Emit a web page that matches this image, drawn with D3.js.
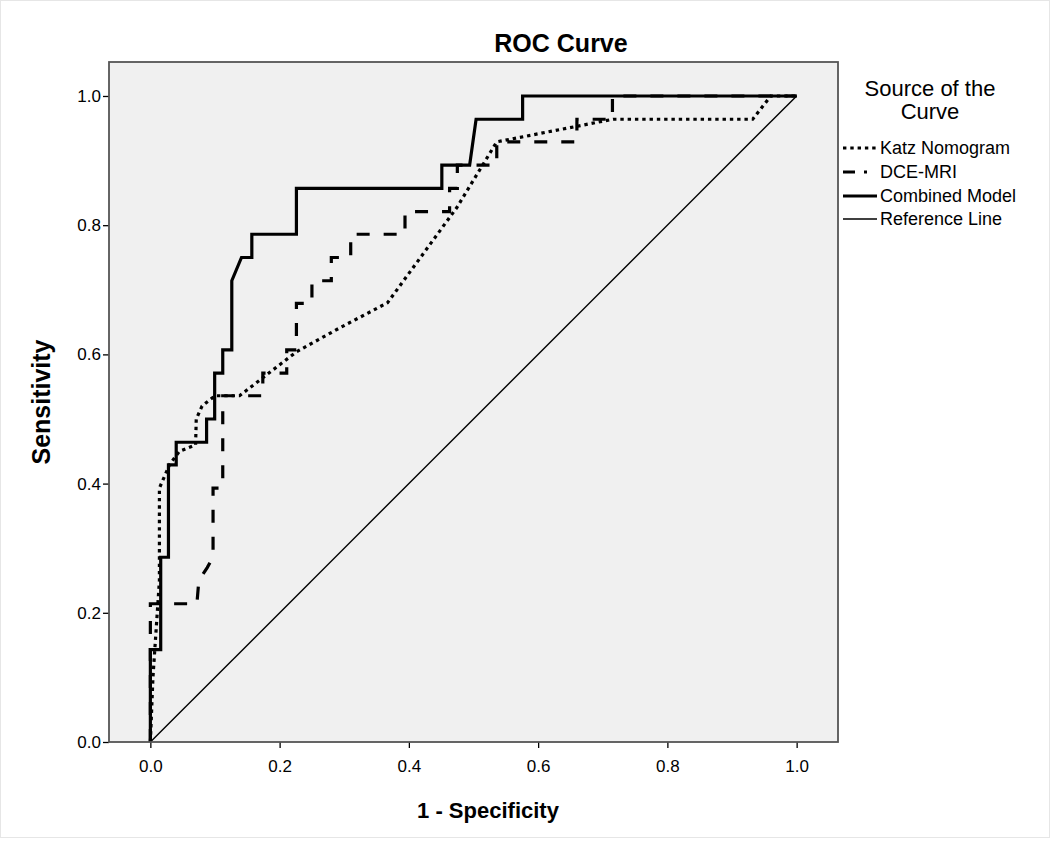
<!DOCTYPE html>
<html>
<head>
<meta charset="utf-8">
<script src="https://cdn.jsdelivr.net/npm/d3@7"></script>
<style>
  html, body { margin: 0; padding: 0; background: #ffffff; }
  svg { display: block; font-family: "Liberation Sans", Arial, sans-serif; }
</style>
</head>
<body>
<svg id="chart" width="1050" height="841"></svg>
<script>
// ---------- data ----------
const xTicks = [0.0, 0.2, 0.4, 0.6, 0.8, 1.0];
const yTicks = [0.0, 0.2, 0.4, 0.6, 0.8, 1.0];

const katzX = [0, 0.004, 0.014, 0.014, 0.03, 0.045, 0.07, 0.071, 0.08, 0.1, 0.138, 0.226, 0.293, 0.367, 0.474, 0.536, 0.716, 0.932, 0.96, 1.0];
const katzY = [0, 0.10, 0.25, 0.393, 0.43, 0.45, 0.46, 0.5, 0.52, 0.536, 0.536, 0.604, 0.641, 0.68, 0.827, 0.929, 0.964, 0.964, 1.0, 1.0];

const dceX = [0, 0, 0.072, 0.075, 0.088, 0.097, 0.097, 0.112, 0.112, 0.174, 0.174, 0.211, 0.211, 0.226, 0.226, 0.25, 0.25, 0.28, 0.28, 0.31, 0.31, 0.394, 0.394, 0.463, 0.463, 0.475, 0.475, 0.536, 0.536, 0.66, 0.66, 0.715, 0.715, 1.0];
const dceY = [0, 0.214, 0.214, 0.25, 0.27, 0.286, 0.393, 0.393, 0.536, 0.536, 0.571, 0.571, 0.607, 0.607, 0.679, 0.679, 0.714, 0.714, 0.75, 0.75, 0.786, 0.786, 0.821, 0.821, 0.857, 0.857, 0.893, 0.893, 0.929, 0.929, 0.964, 0.964, 1.0, 1.0];

const combX = [0, 0, 0.016, 0.016, 0.028, 0.028, 0.040, 0.040, 0.087, 0.087, 0.0995, 0.0995, 0.112, 0.112, 0.126, 0.126, 0.141, 0.157, 0.157, 0.226, 0.226, 0.451, 0.451, 0.494, 0.504, 0.576, 0.576, 1.0];
const combY = [0, 0.143, 0.143, 0.286, 0.286, 0.429, 0.429, 0.464, 0.464, 0.5, 0.5, 0.571, 0.571, 0.607, 0.607, 0.714, 0.75, 0.75, 0.786, 0.786, 0.857, 0.857, 0.893, 0.893, 0.964, 0.964, 1.0, 1.0];

const refX = [0, 1];
const refY = [0, 1];

const seriesNames = ["Katz Nomogram", "DCE-MRI", "Combined Model", "Reference Line"];
const chartTitle = "ROC Curve";
const xTitle = "1 - Specificity";
const yTitle = "Sensitivity";
const legendTitle = ["Source of the", "Curve"];

// ---------- layout ----------
const svg = d3.select("#chart");
const plot = { left: 109, right: 838, top: 62, bottom: 742 };

const x = d3.scaleLinear().domain([-0.064, 1.064]).range([plot.left, plot.right]);
const y = d3.scaleLinear().domain([0, 1.0526]).range([plot.bottom, plot.top]);

// outer faint border
svg.append("rect").attr("x", 0.5).attr("y", 0.5).attr("width", 1049).attr("height", 837)
  .attr("fill", "#ffffff").attr("stroke", "#e6e6e6").attr("stroke-width", 1);

// plot background
svg.append("rect")
  .attr("x", plot.left).attr("y", plot.top)
  .attr("width", plot.right - plot.left).attr("height", plot.bottom - plot.top)
  .attr("fill", "#f0f0f0");

// clip
svg.append("clipPath").attr("id", "clip").append("rect")
  .attr("x", plot.left).attr("y", plot.top)
  .attr("width", plot.right - plot.left).attr("height", plot.bottom - plot.top);

const styles = {
  "Katz Nomogram": { width: 3.2, dash: "3.4,3.9" },
  "DCE-MRI": { width: 3.2, dash: "13,14" },
  "Combined Model": { width: 3.2, dash: null },
  "Reference Line": { width: 1.4, dash: null }
};

const line = d3.line().x(d => x(d[0])).y(d => y(d[1]));
const toPts = (xs, ys) => xs.map((v, i) => [v, ys[i]]);

const g = svg.append("g").attr("clip-path", "url(#clip)");
const series = [
  { name: "Reference Line", pts: toPts(refX, refY) },
  { name: "DCE-MRI", pts: toPts(dceX, dceY) },
  { name: "Katz Nomogram", pts: toPts(katzX, katzY) },
  { name: "Combined Model", pts: toPts(combX, combY) }
];
series.forEach(s => {
  const st = styles[s.name];
  g.append("path")
    .attr("d", line(s.pts))
    .attr("fill", "none")
    .attr("stroke", "#000")
    .attr("stroke-width", st.width)
    .attr("stroke-linejoin", "miter")
    .attr("stroke-linecap", "butt")
    .attr("stroke-dasharray", st.dash);
});

// axes
const xAxis = d3.axisBottom(x).tickValues(xTicks).tickFormat(d3.format(".1f")).tickSize(6).tickSizeOuter(0).tickPadding(12);
const yAxis = d3.axisLeft(y).tickValues(yTicks).tickFormat(d3.format(".1f")).tickSize(6).tickSizeOuter(0).tickPadding(2);

const gx = svg.append("g").attr("transform", `translate(0,${plot.bottom})`).call(xAxis);
const gy = svg.append("g").attr("transform", `translate(${plot.left},0)`).call(yAxis);
[gx, gy].forEach(a => {
  a.select(".domain").remove();
  a.selectAll(".tick line").attr("stroke", "#000").attr("stroke-width", 1.3);
  a.selectAll(".tick text").attr("fill", "#000").style("font-size", "17px")
    .style("font-family", "'Liberation Sans', Arial, sans-serif");
});

// frame
svg.append("rect")
  .attr("x", plot.left).attr("y", plot.top)
  .attr("width", plot.right - plot.left).attr("height", plot.bottom - plot.top)
  .attr("fill", "none").attr("stroke", "#555").attr("stroke-width", 1.8);

// titles
svg.append("text").attr("x", 561).attr("y", 52).attr("text-anchor", "middle")
  .style("font-size", "25px").style("font-weight", "bold").text(chartTitle);
svg.append("text").attr("x", 488).attr("y", 818).attr("text-anchor", "middle")
  .style("font-size", "22px").style("font-weight", "bold").text(xTitle);
svg.append("text").attr("transform", "translate(50,402) rotate(-90)").attr("text-anchor", "middle")
  .style("font-size", "25px").style("font-weight", "bold").text(yTitle);

// legend
const lg = svg.append("g");
lg.append("text").attr("x", 930).attr("y", 96).attr("text-anchor", "middle")
  .style("font-size", "22px").text(legendTitle[0]);
lg.append("text").attr("x", 930).attr("y", 119).attr("text-anchor", "middle")
  .style("font-size", "22px").text(legendTitle[1]);

const legendRows = [
  { name: "Katz Nomogram", y: 148, dash: "3.4,3.9", w: 3.2 },
  { name: "DCE-MRI", y: 172, dash: "12,9,3,20", w: 3.2 },
  { name: "Combined Model", y: 196, dash: null, w: 3.2 },
  { name: "Reference Line", y: 219, dash: null, w: 1.4 }
];
legendRows.forEach(r => {
  lg.append("line").attr("x1", 843).attr("x2", 877).attr("y1", r.y).attr("y2", r.y)
    .attr("stroke", "#000").attr("stroke-width", r.w).attr("stroke-dasharray", r.dash);
  lg.append("text").attr("x", 880).attr("y", r.y + 6).style("font-size", "18px").text(r.name);
});
</script>
</body>
</html>
